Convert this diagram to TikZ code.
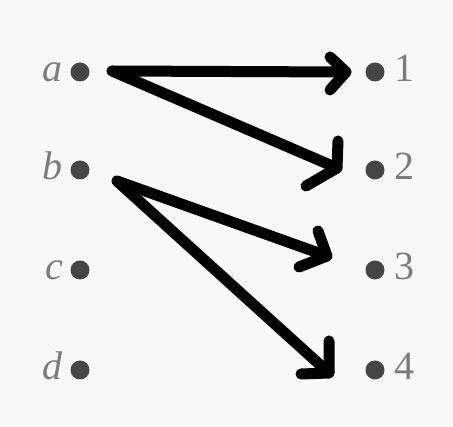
\documentclass[tikz,border=0pt]{standalone}
\usepackage{fontspec}
\setmainfont{Liberation Serif}
\usetikzlibrary{calc}
\begin{document}
\begin{tikzpicture}[x=1pt,y=-1pt,
  dotnode/.style={circle,fill=dotgray,minimum size=19pt,inner sep=0pt},
  lbl/.style={text=txtgray,inner sep=0pt,font=\fontsize{40}{44}\selectfont},
  arrowline/.style={line width=11pt,line cap=round,line join=round,black}]
\definecolor{dotgray}{HTML}{454545}
\definecolor{txtgray}{HTML}{7C7C7C}
\definecolor{bggray}{HTML}{F8F8F8}
\fill[bggray] (0,0) rectangle (453,427);
\useasboundingbox (0,0) rectangle (453,427);
% left dots
\node[dotnode] (a) at (80,72) {};
\node[dotnode] (b) at (80,170) {};
\node[dotnode] (c) at (80,270) {};
\node[dotnode] (d) at (80,370) {};
% right dots
\node[dotnode] (n1) at (375,72) {};
\node[dotnode] (n2) at (375,170) {};
\node[dotnode] (n3) at (375,270) {};
\node[dotnode] (n4) at (375,370) {};
% labels
\node[lbl,anchor=base east] (la) at (63,82) {\itshape a};
\node[lbl,anchor=base east] (lb) at (63,180) {\itshape b};
\node[lbl,anchor=base east] (lc) at (63,280) {\itshape c};
\node[lbl,anchor=base east] (ld) at (63,380) {\itshape d};
\node[lbl,anchor=base west] (l1) at (394,82) {1};
\node[lbl,anchor=base west] (l2) at (394,180) {2};
\node[lbl,anchor=base west] (l3) at (394,280) {3};
\node[lbl,anchor=base west] (l4) at (394,380) {4};
% arrow start and tip coordinates
\coordinate (sa) at (112,71);
\coordinate (sb) at (117,181);
\coordinate (t1) at (346,72);
\coordinate (t2) at (337,168);
\coordinate (t3) at (327,256);
\coordinate (t4) at (329,373);
% arrows
\draw[arrowline] (sa) -- (t1);
\draw[arrowline] ($(t1)+(-16,-15)$) -- (t1) -- ($(t1)+(-16,18)$);
\draw[arrowline] (sa) -- (t2);
\draw[arrowline] ($(t2)+(1,-27)$) -- (t2) -- ($(t2)+(-31,18)$);
\draw[arrowline] (sb) -- (t3);
\draw[arrowline] ($(t3)+(-9,-25)$) -- (t3) -- ($(t3)+(-28,11)$);
\draw[arrowline] (sb) -- (t4);
\draw[arrowline] ($(t4)+(0,-32)$) -- (t4) -- ($(t4)+(-28,1)$);
\end{tikzpicture}
\end{document}
